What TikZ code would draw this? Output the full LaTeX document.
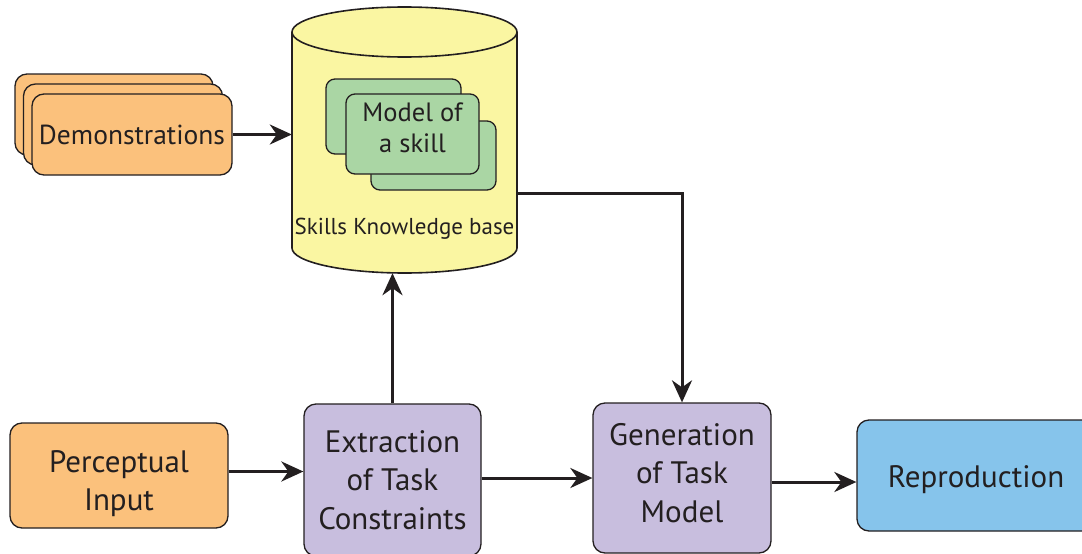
\documentclass[tikz,border=0pt]{standalone}
\usepackage{fontspec}
\setmainfont{PT Sans}
\usetikzlibrary{arrows.meta}
\definecolor{ink}{HTML}{231F20}
\definecolor{orangebox}{RGB}{251,193,124}
\definecolor{kbyellow}{RGB}{250,246,162}
\definecolor{skillgreen}{RGB}{170,214,164}
\definecolor{procpurple}{RGB}{200,190,222}
\definecolor{outblue}{RGB}{134,196,235}
\tikzset{
  box/.style={draw=ink, line width=1.3pt, rounded corners=12pt, inner sep=0pt,
    align=center, text=ink},
  skillbox/.style={box, fill=skillgreen, rounded corners=9pt},
  flow/.style={draw=ink, line width=3pt,
    -{Stealth[length=22pt,width=20pt,inset=7pt]}},
  bigtext/.style={font=\fontsize{31}{38.5}\selectfont},
  % text set inside a box, moved off its centre by #1
  boxtext/.style={text=ink, align=center, inner sep=0pt, yshift=#1},
}
\begin{document}
\begin{tikzpicture}[x=1pt,y=-1pt]
\useasboundingbox (0,0) rectangle (1082,554);
\clip (0,0) rectangle (1082,554);

% stacked demonstrations
\node[box, fill=orangebox, minimum width=198pt, minimum height=81pt] (demoC) at (114,114.5) {};
\node[box, fill=orangebox, minimum width=199pt, minimum height=81pt] (demoB) at (123,124.5) {};
\node[box, fill=orangebox, minimum width=200pt, minimum height=81pt,
      font=\fontsize{27.5}{33}\selectfont] (demo) at (132,134.5) {Demonstrations};

% knowledge base cylinder
\filldraw[draw=ink, fill=kbyellow, line width=1.6pt]
  (292,32) -- (292,248) arc(180:360:112.5pt and 25pt) -- (517,32)
  arc(0:180:112.5pt and 25pt) -- cycle;
\draw[draw=ink, line width=1.6pt] (292,32) arc(180:360:112.5pt and 25pt);
\node[minimum width=225pt, minimum height=266pt, inner sep=0pt] (kb) at (404.5,140) {};
\node[text=ink, font=\fontsize{23}{27}\selectfont] (kblabel) at (404.5,229) {Skills Knowledge base};

% skill models inside the base
\node[skillbox, minimum width=135pt, minimum height=75pt] (skillA) at (393.5,116.5) {};
\node[skillbox, minimum width=125pt, minimum height=69pt] (skillC) at (433.5,155.5) {};
\node[skillbox, minimum width=133pt, minimum height=80pt,
      label={[boxtext=6pt, font=\fontsize{26.5}{31}\selectfont]center:Model of\\a skill}]
  (skill) at (412.5,134) {};

% processing chain
\node[box, fill=orangebox, minimum width=218pt, minimum height=105pt,
      label={[boxtext=-8pt, bigtext]center:Perceptual\\Input}]
  (perc) at (119,475.5) {};
\node[box, fill=procpurple, minimum width=177pt, minimum height=152pt, bigtext]
  (ext) at (392.5,480) {Extraction\\of Task\\Constraints};
\node[box, fill=procpurple, minimum width=178pt, minimum height=150pt,
      label={[boxtext=5pt, bigtext]center:Generation\\of Task\\Model}]
  (gen) at (682,478) {};
\node[box, fill=outblue, minimum width=238pt, minimum height=111pt,
      label={[boxtext=-4pt, bigtext]center:Reproduction}]
  (rep) at (976,475.5) {};

% connectors
\draw[flow] (demo.east) -- (demo.east -| kb.west);
\draw[flow] (ext.north) -- (ext.north |- kb.south);
\draw[flow] ([yshift=-53pt]kb.east) -| (gen.north);
\draw[flow] ([yshift=4pt]perc.east) -- ([yshift=4pt]perc.east -| ext.west);
\draw[flow] ([yshift=2pt]ext.east) -- ([yshift=2pt]ext.east -| gen.west);
\draw[flow] ([yshift=-4pt]gen.east) -- ([yshift=-4pt]gen.east -| rep.west);
\end{tikzpicture}
\end{document}
